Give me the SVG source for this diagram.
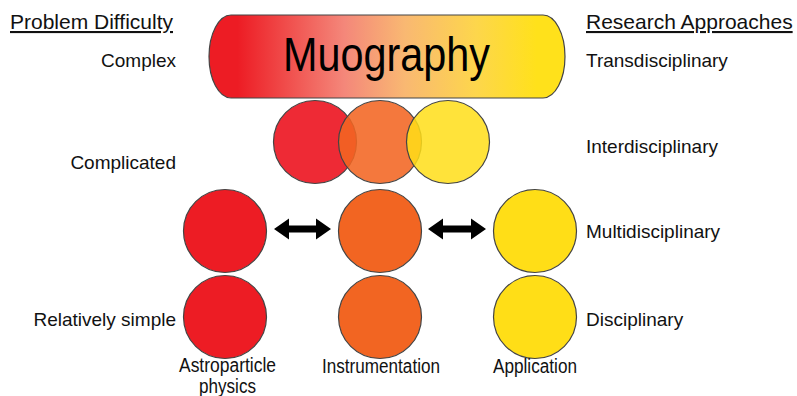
<svg xmlns="http://www.w3.org/2000/svg" width="797" height="396" viewBox="0 0 797 396">
<defs>
<linearGradient id="pillGrad" x1="209" y1="0" x2="565" y2="0" gradientUnits="userSpaceOnUse">
<stop offset="0" stop-color="#ED1C24"/>
<stop offset="0.08" stop-color="#ED1C24"/>
<stop offset="0.38" stop-color="#F4877A"/>
<stop offset="0.55" stop-color="#F9B872"/>
<stop offset="0.75" stop-color="#FDD64C"/>
<stop offset="0.92" stop-color="#FFE11B"/>
<stop offset="1" stop-color="#FFE11B"/>
</linearGradient>
</defs>
<style>
.lbl{font-family:"Liberation Sans",Arial,sans-serif;font-size:19px;fill:#111}
.hdr{font-family:"Liberation Sans",Arial,sans-serif;font-size:21px;fill:#111;text-decoration:underline}
.nar{font-family:"Liberation Sans Narrow","Liberation Sans",Arial,sans-serif;font-size:20px;fill:#111}
.c{stroke:#444;stroke-width:1.2}
.red{fill:#ED1C24}
.org{fill:#F26522}
.yel{fill:#FFDE17}
.arr{fill:#000}
</style>
<rect width="797" height="396" fill="#fff"/>

<g id="headers">
<text class="hdr" x="10" y="29">Problem Difficulty</text>
<text class="hdr" x="586" y="29">Research Approaches</text>
</g>

<g id="difficulty-labels">
<text class="lbl" x="176" y="67" text-anchor="end">Complex</text>
<text class="lbl" x="176" y="169" text-anchor="end">Complicated</text>
<text class="lbl" x="176" y="326" text-anchor="end">Relatively simple</text>
</g>

<g id="approach-labels">
<text class="lbl" x="586" y="67">Transdisciplinary</text>
<text class="lbl" x="586" y="153">Interdisciplinary</text>
<text class="lbl" x="586" y="238">Multidisciplinary</text>
<text class="lbl" x="586" y="326">Disciplinary</text>
</g>

<g id="muography">
<path d="M231,15 H543 A22,41.5 0 0 1 543,98 H231 A22,41.5 0 0 1 231,15 Z" fill="url(#pillGrad)" class="c"/>
<text x="283" y="71" font-family="'Liberation Sans Narrow','Liberation Sans',Arial,sans-serif" font-size="49" fill="#000" textLength="207" lengthAdjust="spacingAndGlyphs">Muography</text>
</g>

<g id="interdisciplinary">
<circle cx="315" cy="142" r="41.5" fill="#EE2A35" class="c"/>
<circle cx="380" cy="142" r="41.5" fill="#F26522" fill-opacity="0.88" class="c"/>
<circle cx="448" cy="142" r="41.5" fill="#FFDE17" fill-opacity="0.85" class="c"/>
</g>

<g id="multi-astro"><circle cx="225" cy="231" r="41.5" class="c red"/></g>
<g id="multi-instr"><circle cx="380" cy="231" r="41.5" class="c org"/></g>
<g id="multi-app"><circle cx="535" cy="231" r="41.5" class="c yel"/></g>

<g id="disc-astro"><circle cx="225" cy="317" r="41.5" class="c red"/></g>
<g id="disc-instr"><circle cx="380" cy="317" r="41.5" class="c org"/></g>
<g id="disc-app"><circle cx="535" cy="317" r="41.5" class="c yel"/></g>

<g id="connectors">
<polygon class="arr" points="274,229 289,218.5 289,225.5 316,225.5 316,218.5 331,229 316,239.5 316,232.5 289,232.5 289,239.5"/>
<polygon class="arr" points="428,229 443,218.5 443,225.5 471,225.5 471,218.5 486,229 471,239.5 471,232.5 443,232.5 443,239.5"/>
</g>

<g id="field-labels">
<text class="nar" x="179" y="372" textLength="97" lengthAdjust="spacingAndGlyphs">Astroparticle</text>
<text class="nar" x="199" y="393" textLength="57" lengthAdjust="spacingAndGlyphs">physics</text>
<text class="nar" x="322" y="373" textLength="118" lengthAdjust="spacingAndGlyphs">Instrumentation</text>
<text class="nar" x="493" y="373" textLength="84" lengthAdjust="spacingAndGlyphs">Application</text>
</g>
</svg>
